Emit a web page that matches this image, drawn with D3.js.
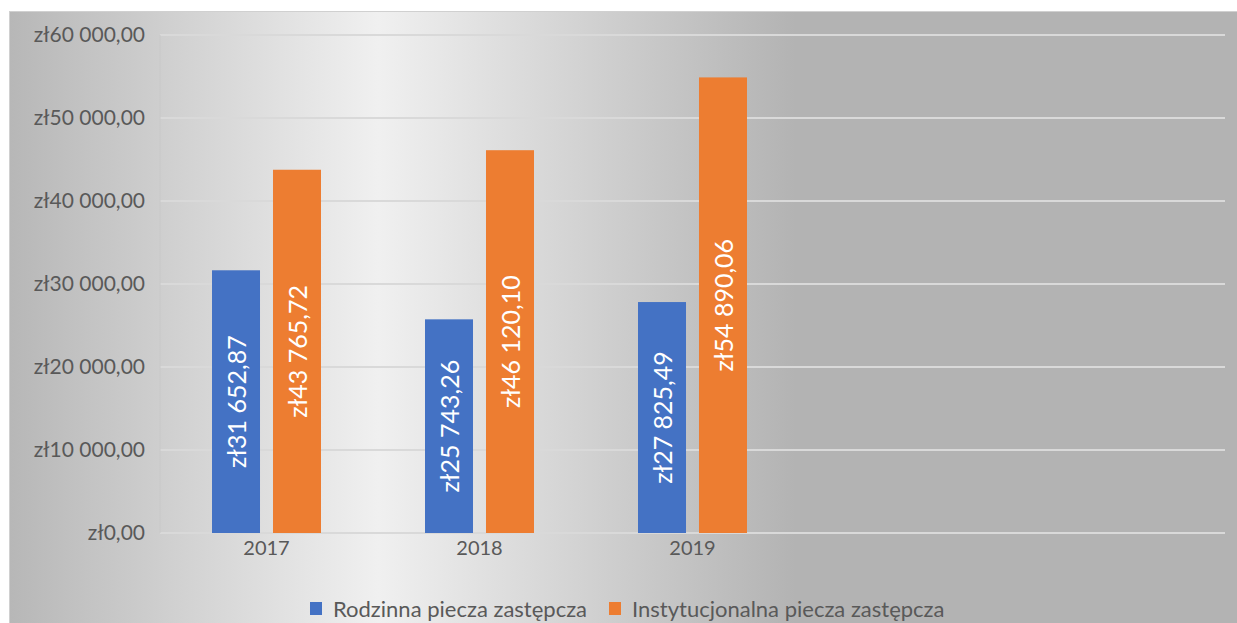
<!DOCTYPE html>
<html>
<head>
<meta charset="utf-8">
<script src="https://cdn.jsdelivr.net/npm/d3@7"></script>
<style>
  html, body { margin: 0; padding: 0; background: #ffffff; }
  svg { display: block; }
  text { font-family: Lato, "Open Sans", sans-serif; }
</style>
</head>
<body>
<svg id="chart" width="1237" height="623"></svg>
<script>
const categories = ["2017", "2018", "2019", "", ""];
const seriesNames = ["Rodzinna piecza zastępcza", "Instytucjonalna piecza zastępcza"];
const seriesColors = ["#4472c4", "#ed7d31"];
const rodzinna = [31652.87, 25743.26, 27825.49, null, null];
const instytucjonalna = [43765.72, 46120.10, 54890.06, null, null];
const yTicks = [0, 10000, 20000, 30000, 40000, 50000, 60000];

const fmt = v => {
  const [intPart, dec] = v.toFixed(2).split(".");
  const grouped = intPart.replace(/\B(?=(\d{3})+(?!\d))/g, " ");
  return "zł" + grouped + "," + dec;
};

const svg = d3.select("#chart");
const W = 1237, H = 623;

// background gradient
const defs = svg.append("defs");
const grad = defs.append("linearGradient").attr("id", "bg")
  .attr("x1", "0%").attr("x2", "100%").attr("y1", "0%").attr("y2", "0%");
[[0, "#b7b7b7"], [0.30, "#f0f0f0"], [0.64, "#b3b3b3"], [1, "#b3b3b3"]].forEach(([o, c]) =>
  grad.append("stop").attr("offset", o).attr("stop-color", c));

svg.append("rect").attr("x", 9.5).attr("y", 11.5).attr("width", W - 9).attr("height", H - 11)
  .attr("fill", "url(#bg)").attr("stroke", "#d0d0d0").attr("stroke-width", 1);

const plot = { left: 160, right: 1225, top: 35, bottom: 533 };

const y = d3.scaleLinear().domain([0, 60000]).range([plot.bottom, plot.top]);
const idx = d3.range(categories.length);
const x0 = d3.scaleBand().domain(idx).range([plot.left, plot.right])
  .paddingInner(104 / 213).paddingOuter(52 / 213);
const x1 = d3.scaleBand().domain([0, 1]).range([0, x0.bandwidth()]).paddingInner(0.213);

// gridlines
svg.append("g").selectAll("line").data(yTicks).join("line")
  .attr("x1", plot.left).attr("x2", plot.right)
  .attr("y1", d => y(d)).attr("y2", d => y(d))
  .attr("stroke", "#d9d9d9").attr("stroke-width", 2);

// left vertical line
svg.append("line").attr("x1", plot.left).attr("x2", plot.left)
  .attr("y1", plot.top).attr("y2", plot.bottom)
  .attr("stroke", "#c8c8c8").attr("stroke-width", 1);

// y axis labels
const yAxis = d3.axisLeft(y).tickValues(yTicks).tickFormat(fmt).tickSize(0).tickPadding(15);
const gy = svg.append("g").attr("transform", `translate(${plot.left},0)`).call(yAxis);
gy.select(".domain").remove();
gy.selectAll("text").attr("fill", "#595959").style("font-size", "21px").style("font-family", "Lato, sans-serif");

// x axis labels
const xAxis = d3.axisBottom(x0).tickFormat(i => categories[i]).tickSize(0).tickPadding(8);
const gx = svg.append("g").attr("transform", `translate(0,${plot.bottom})`).call(xAxis);
gx.select(".domain").remove();
gx.selectAll("text").attr("fill", "#595959").style("font-size", "20px").style("font-family", "Lato, sans-serif");

// bars
const series = [rodzinna, instytucjonalna];
const data = [];
idx.forEach(i => series.forEach((s, k) => {
  if (s[i] != null) data.push({ i, k, v: s[i] });
}));

const bars = svg.append("g");
bars.selectAll("rect").data(data).join("rect")
  .attr("x", d => x0(d.i) + x1(d.k))
  .attr("width", x1.bandwidth())
  .attr("y", d => y(d.v))
  .attr("height", d => y(0) - y(d.v))
  .attr("fill", d => seriesColors[d.k]);

bars.selectAll("text").data(data).join("text")
  .attr("transform", d => {
    const cx = x0(d.i) + x1(d.k) + x1.bandwidth() / 2;
    const cy = (y(d.v) + y(0)) / 2;
    return `translate(${cx},${cy}) rotate(-90)`;
  })
  .attr("text-anchor", "middle")
  .attr("dominant-baseline", "central")
  .attr("fill", "#ffffff")
  .style("font-size", "25px")
  .text(d => fmt(d.v));

// legend
const legend = svg.append("g").attr("transform", "translate(0,608)");
const items = [{ x: 310 }, { x: 609 }];
items.forEach((it, k) => {
  legend.append("rect").attr("x", it.x).attr("y", -6).attr("width", 12).attr("height", 13)
    .attr("fill", seriesColors[k]);
  legend.append("text").attr("x", it.x + 23).attr("y", 0)
    .attr("dominant-baseline", "central")
    .attr("fill", "#595959").style("font-size", "22px")
    .text(seriesNames[k]);
});
</script>
</body>
</html>
